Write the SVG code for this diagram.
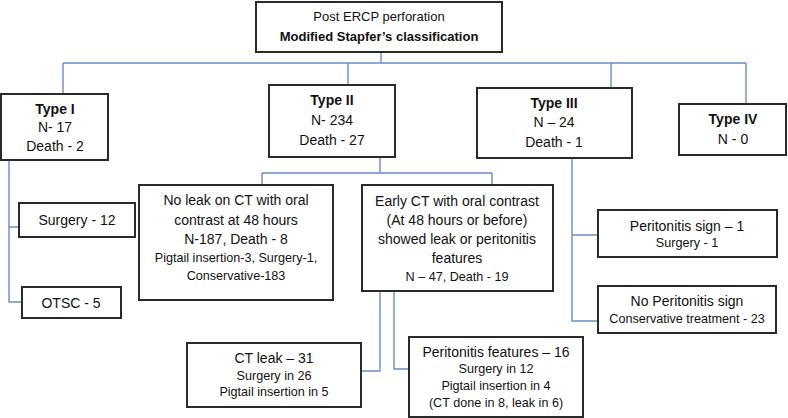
<svg xmlns="http://www.w3.org/2000/svg" width="788" height="418" viewBox="0 0 788 418">
<style>
.box{fill:#fff;stroke:#2a2a2a;stroke-width:2}
.c{fill:none;stroke:#6a8cc7;stroke-width:1.4}
text{font-family:"Liberation Sans",Arial,sans-serif;font-size:14px;fill:#111;text-anchor:middle}
.b{font-weight:bold}
.t{font-size:13px}
.s{font-size:12.6px}
</style>
<rect width="788" height="418" fill="#fff"/>
<g id="connectors">
<path class="c" d="M381 52V63M63 63H746M63 63V94M348 63V85M611 63V88M746 63V104"/>
<path class="c" d="M9 160V302H22M9 227H19"/>
<path class="c" d="M380 157V173M262 173H492M262 173V185M492 173V185"/>
<path class="c" d="M380 291V371H361M394 291V369H409"/>
<path class="c" d="M572 158V321H598M572 235H598"/>
</g>
<g id="root"><rect class="box" x="256" y="2" width="246" height="50"/>
<text class="t" x="379" y="21">Post ERCP perforation</text>
<text class="b t" x="379" y="41">Modified Stapfer’s classification</text></g>
<g id="type1"><rect class="box" x="1" y="94" width="107" height="66"/>
<text class="b" x="55" y="114">Type I</text><text x="55" y="132">N- 17</text><text x="55" y="151">Death - 2</text></g>
<g id="type2"><rect class="box" x="269" y="85" width="126" height="72"/>
<text class="b" x="332" y="105">Type II</text><text x="332" y="125">N- 234</text><text x="332" y="145">Death - 27</text></g>
<g id="type3"><rect class="box" x="477" y="88" width="155" height="70"/>
<text class="b" x="554" y="108">Type III</text><text x="554" y="127">N – 24</text><text x="554" y="147">Death - 1</text></g>
<g id="type4"><rect class="box" x="679" y="104" width="107" height="51"/>
<text class="b" x="733" y="124">Type IV</text><text x="733" y="144">N - 0</text></g>
<g id="surgery12"><rect class="box" x="19" y="203" width="116" height="34"/>
<text x="77" y="225">Surgery - 12</text></g>
<g id="otsc"><rect class="box" x="22" y="287" width="99" height="31"/>
<text x="71" y="308">OTSC - 5</text></g>
<g id="noleak"><rect class="box" x="139" y="185" width="194" height="115"/>
<text x="236" y="205">No leak on CT with oral</text><text x="236" y="225">contrast at 48 hours</text><text x="236" y="244">N-187, Death - 8</text>
<text class="s" x="236" y="262">Pigtail insertion-3, Surgery-1,</text><text class="s" x="236" y="280">Conservative-183</text></g>
<g id="earlyct"><rect class="box" x="362" y="185" width="191" height="106"/>
<text x="457" y="206">Early CT with oral contrast</text><text x="457" y="225">(At 48 hours or before)</text><text x="457" y="244">showed leak or peritonitis</text><text x="457" y="263">features</text>
<text class="s" x="457" y="281">N – 47, Death - 19</text></g>
<g id="ctleak"><rect class="box" x="187" y="343" width="174" height="64"/>
<text x="274" y="363">CT leak – 31</text><text class="s" x="274" y="380">Surgery in 26</text><text class="s" x="274" y="396">Pigtail insertion in 5</text></g>
<g id="perfeat"><rect class="box" x="409" y="337" width="174" height="80"/>
<text x="496" y="357">Peritonitis features – 16</text><text class="s" x="496" y="373">Surgery in 12</text><text class="s" x="496" y="390">Pigtail insertion in 4</text><text class="s" x="496" y="407">(CT done in 8, leak in 6)</text></g>
<g id="persign"><rect class="box" x="598" y="210" width="179" height="47"/>
<text x="687" y="231">Peritonitis sign – 1</text><text class="s" x="687" y="247">Surgery - 1</text></g>
<g id="noper"><rect class="box" x="598" y="286" width="178" height="47"/>
<text x="687" y="306">No Peritonitis sign</text><text class="s" x="687" y="323">Conservative treatment - 23</text></g>
</svg>
